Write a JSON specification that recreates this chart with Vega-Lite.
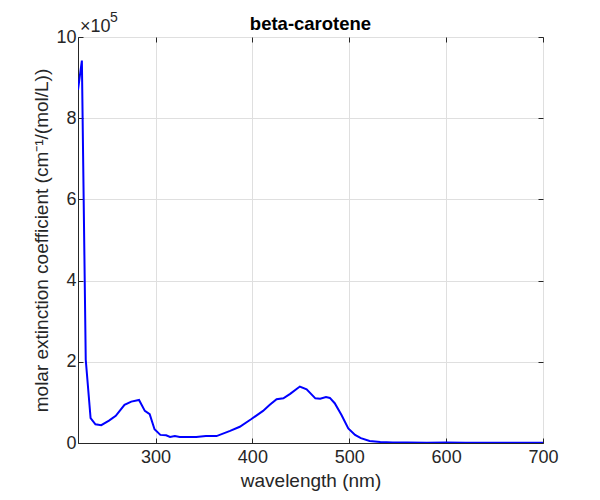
{
  "$schema": "https://vega.github.io/schema/vega-lite/v6.json",
  "autosize": "none",
  "width": 465,
  "height": 406,
  "padding": {"left": 78, "top": 37, "right": 57, "bottom": 57},
  "background": "white",
  "config": {
    "font": "Liberation Sans",
    "view": {"stroke": "#262626", "strokeWidth": 1},
    "axis": {
      "grid": true,
      "gridColor": "#dfdfdf",
      "gridWidth": 1,
      "domainColor": "#262626",
      "tickColor": "#262626",
      "tickSize": -5,
      "labelColor": "#262626",
      "titleColor": "#262626",
      "labelFont": "Liberation Sans",
      "titleFont": "Liberation Sans",
      "labelFontSize": 18,
      "titleFontSize": 19,
      "titleFontWeight": "normal",
      "labelFlush": false,
      "labelOverlap": false
    }
  },
  "resolve": {"axis": {"x": "independent", "y": "independent"}},
  "title": {
    "text": "beta-carotene",
    "fontSize": 18.5,
    "fontWeight": "bold",
    "font": "Liberation Sans",
    "color": "black",
    "offset": -22
  },
  "data": {
    "values": [
      {"wl": 220, "eps": 870000},
      {"wl": 224, "eps": 942000},
      {"wl": 228, "eps": 205000},
      {"wl": 233, "eps": 61000},
      {"wl": 238, "eps": 46000},
      {"wl": 244, "eps": 44000},
      {"wl": 252, "eps": 55000},
      {"wl": 259, "eps": 67000},
      {"wl": 268, "eps": 94000},
      {"wl": 275, "eps": 102000},
      {"wl": 283, "eps": 106000},
      {"wl": 289, "eps": 79000},
      {"wl": 294, "eps": 71000},
      {"wl": 299, "eps": 34000},
      {"wl": 305, "eps": 20000},
      {"wl": 311, "eps": 19000},
      {"wl": 315, "eps": 15000},
      {"wl": 320, "eps": 17000},
      {"wl": 325, "eps": 15000},
      {"wl": 342, "eps": 15000},
      {"wl": 352, "eps": 17000},
      {"wl": 363, "eps": 17000},
      {"wl": 377, "eps": 30000},
      {"wl": 387, "eps": 40000},
      {"wl": 399, "eps": 59000},
      {"wl": 411, "eps": 79000},
      {"wl": 418, "eps": 94000},
      {"wl": 425, "eps": 108000},
      {"wl": 432, "eps": 110000},
      {"wl": 439, "eps": 121000},
      {"wl": 449, "eps": 139000},
      {"wl": 456, "eps": 132000},
      {"wl": 465, "eps": 110000},
      {"wl": 470, "eps": 109000},
      {"wl": 476, "eps": 113000},
      {"wl": 480, "eps": 111000},
      {"wl": 485, "eps": 98000},
      {"wl": 492, "eps": 69000},
      {"wl": 499, "eps": 36000},
      {"wl": 506, "eps": 20000},
      {"wl": 512, "eps": 12000},
      {"wl": 521, "eps": 5000},
      {"wl": 532, "eps": 2500},
      {"wl": 545, "eps": 1500},
      {"wl": 560, "eps": 1200},
      {"wl": 580, "eps": 800},
      {"wl": 600, "eps": 1000},
      {"wl": 620, "eps": 600},
      {"wl": 640, "eps": 900},
      {"wl": 660, "eps": 500},
      {"wl": 680, "eps": 700},
      {"wl": 700, "eps": 400}
    ]
  },
  "layer": [
    {
      "mark": {"type": "line", "color": "#0000ff", "strokeWidth": 2, "clip": true},
      "encoding": {
        "x": {
          "field": "wl",
          "type": "quantitative",
          "scale": {"domain": [220, 700], "nice": false, "zero": false},
          "axis": {"values": [300, 400, 500, 600, 700], "title": "wavelength (nm)", "titlePadding": 5, "labelPadding": 10}
        },
        "y": {
          "field": "eps",
          "type": "quantitative",
          "scale": {"domain": [0, 1000000], "nice": false},
          "axis": {
            "values": [0, 200000, 400000, 600000, 800000, 1000000],
            "labelExpr": "format(datum.value / 100000, 'd')",
            "title": "molar extinction coefficient (cm⁻¹/(mol/L))",
            "titlePadding": 4,
            "labelPadding": 7
          }
        }
      }
    },
    {
      "mark": {"type": "line", "opacity": 0},
      "encoding": {
        "x": {
          "field": "wl",
          "type": "quantitative",
          "axis": {"orient": "top", "values": [300, 400, 500, 600, 700], "labels": false, "title": null, "grid": false, "domain": false}
        },
        "y": {
          "field": "eps",
          "type": "quantitative",
          "axis": {"orient": "right", "values": [0, 200000, 400000, 600000, 800000, 1000000], "labels": false, "title": null, "grid": false, "domain": false}
        }
      }
    },
    {
      "data": {"values": [{"label": "×10"}]},
      "mark": {"type": "text", "align": "left", "baseline": "alphabetic", "fontSize": 18, "color": "#262626", "dx": 2, "dy": -5, "font": "Liberation Sans"},
      "encoding": {
        "x": {"datum": 220, "axis": null},
        "y": {"datum": 1000000, "axis": null},
        "text": {"field": "label"}
      }
    },
    {
      "data": {"values": [{"label": "5"}]},
      "mark": {"type": "text", "align": "left", "baseline": "alphabetic", "fontSize": 14, "color": "#262626", "dx": 32, "dy": -15, "font": "Liberation Sans"},
      "encoding": {
        "x": {"datum": 220, "axis": null},
        "y": {"datum": 1000000, "axis": null},
        "text": {"field": "label"}
      }
    }
  ]
}
